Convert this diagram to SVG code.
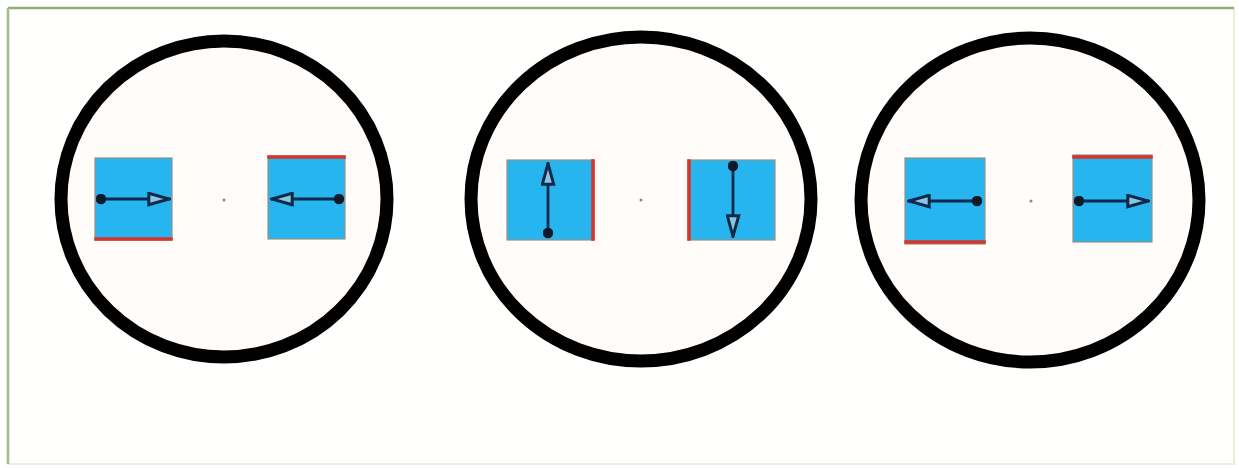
<svg xmlns="http://www.w3.org/2000/svg" width="1239" height="468" viewBox="0 0 1239 468">
<style>
.ring{fill:#fffcfa;stroke:#000;stroke-width:13}
.sq{fill:#27b5ef;stroke:#9a8f80;stroke-width:1.2}
.red{stroke:#d8352a;stroke-width:3.5;stroke-linecap:square}
.ctr{fill:#888}
.arr{stroke:#0d2a4a;stroke-width:2.8;fill:none;marker-start:url(#dot);marker-end:url(#tri)}
</style>
<defs>
<marker id="tri" viewBox="0 0 24 15" refX="23" refY="7.5" markerWidth="24" markerHeight="15" markerUnits="userSpaceOnUse" orient="auto">
<path d="M1.8,1.8 L22.2,7.5 L1.8,13.2 Z" fill="#8cc4e4" stroke="#0d2a4a" stroke-width="3" stroke-linejoin="miter"/>
</marker>
<marker id="dot" viewBox="0 0 11 11" refX="5.5" refY="5.5" markerWidth="11" markerHeight="11" markerUnits="userSpaceOnUse">
<circle cx="5.5" cy="5.5" r="5.2" fill="#0d1a2a"/>
</marker>
</defs>
<rect x="0" y="0" width="1239" height="468" fill="#ffffff"/>
<rect x="8" y="8" width="1226" height="456" fill="#fffffd" stroke="#e6f0d8" stroke-width="2"/>
<line x1="8" y1="8" x2="1234" y2="8" stroke="#8fb072" stroke-width="2.5"/>
<line x1="8" y1="8" x2="8" y2="464" stroke="#9fbc84" stroke-width="2.5"/>
<g id="circle1">
<ellipse class="ring" cx="224" cy="199" rx="163" ry="158"/>
<circle class="ctr" cx="224" cy="200" r="1.5"/>
<g id="c1-left"><rect class="sq" x="95" y="158" width="77" height="82"/><line class="red" x1="96" y1="239" x2="171" y2="239"/></g>
<g id="c1-right"><rect class="sq" x="268" y="156" width="77" height="83"/><line class="red" x1="269" y1="157" x2="344" y2="157"/></g>
</g>
<g id="circle2">
<ellipse class="ring" cx="641" cy="199" rx="170" ry="162"/>
<circle class="ctr" cx="641" cy="200" r="1.5"/>
<g id="c2-left"><rect class="sq" x="507" y="160" width="87" height="80"/><line class="red" x1="593" y1="161" x2="593" y2="239"/></g>
<g id="c2-right"><rect class="sq" x="688" y="160" width="87" height="80"/><line class="red" x1="689" y1="161" x2="689" y2="239"/></g>
</g>
<g id="circle3">
<ellipse class="ring" cx="1030" cy="200" rx="169" ry="162"/>
<circle class="ctr" cx="1031" cy="201" r="1.5"/>
<g id="c3-left"><rect class="sq" x="905" y="158" width="80" height="86"/><line class="red" x1="906" y1="242" x2="984" y2="242"/></g>
<g id="c3-right"><rect class="sq" x="1073" y="155" width="79" height="87"/><line class="red" x1="1074" y1="157" x2="1151" y2="157"/></g>
</g>
<g id="connectors">
<line class="arr" x1="101" y1="199" x2="170" y2="199"/>
<line class="arr" x1="339" y1="199" x2="271" y2="199"/>
<line class="arr" x1="548" y1="233" x2="548" y2="163"/>
<line class="arr" x1="733" y1="166" x2="733" y2="237"/>
<line class="arr" x1="977" y1="201" x2="908" y2="201"/>
<line class="arr" x1="1079" y1="201" x2="1149" y2="201"/>
</g>
</svg>
